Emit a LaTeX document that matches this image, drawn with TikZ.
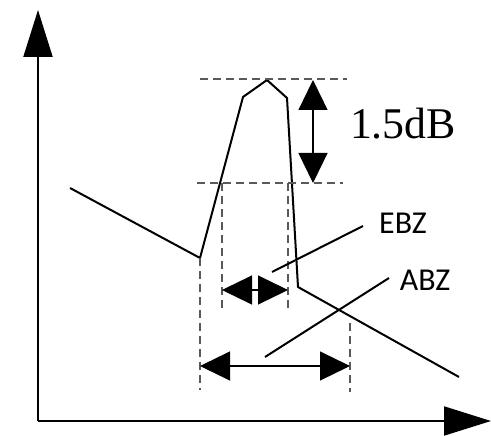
\documentclass[tikz,border=0pt]{standalone}
\usepackage{fontspec}
\setmainfont{Liberation Serif}
\newfontfamily\labfont{Carlito}
\usetikzlibrary{arrows.meta}
\tikzset{
  axisline/.style={line width=2bp,-{Triangle[length=47bp,width=29bp]}},
  curveline/.style={line width=2bp,line join=miter},
  guide/.style={line width=1.4bp,draw=black!65,dash pattern=on 8bp off 5bp},
  dimarrow/.style={line width=1.2bp,{Triangle[length=30bp,width=29bp]}-{Triangle[length=30bp,width=29bp]}},
  leader/.style={line width=2bp},
  serlab/.style={font=\fontsize{44}{48}\selectfont,inner sep=0pt},
  sanslab/.style={font=\labfont\fontsize{32}{36}\selectfont,inner sep=0pt}
}
\begin{document}
\begin{tikzpicture}[x=1bp,y=-1bp]
\useasboundingbox (0,0) rectangle (491,436);
% axes
\coordinate (O) at (38,421);
\coordinate (Ytip) at (38,10);
\coordinate (Xtip) at (491,421);
\draw[axisline] (O) -- (Ytip);
\draw[axisline] (O) -- (Xtip);
% curve
\coordinate (c0) at (70,188);
\coordinate (c1) at (200,258);
\coordinate (c2) at (243,97);
\coordinate (c3) at (267,80);
\coordinate (c4) at (287,98);
\coordinate (c5) at (298,287);
\coordinate (c6) at (459,377);
\draw[curveline] (c0) -- (c1) -- (c2) -- (c3) -- (c4) -- (c5) -- (c6);
% dashed guides
\coordinate (h1a) at (200,79);  \coordinate (h1b) at (347,79);
\coordinate (h2a) at (197,183); \coordinate (h2b) at (343,183);
\draw[guide] (h1a) -- (h1b);
\draw[guide] (h2a) -- (h2b);
\coordinate (v1a) at (200,258); \coordinate (v1b) at (200,390);
\coordinate (v2a) at (350,323); \coordinate (v2b) at (350,392);
\coordinate (v3a) at (222,183); \coordinate (v3b) at (222,308);
\coordinate (v4a) at (288,183); \coordinate (v4b) at (288,308);
\draw[guide] (v1a) -- (v1b);
\draw[guide] (v2a) -- (v2b);
\draw[guide] (v3a) -- (v3b);
\draw[guide] (v4a) -- (v4b);
% dimension arrows
\coordinate (d1a) at (313,80);  \coordinate (d1b) at (313,183);
\draw[dimarrow] (d1a) -- (d1b);
\coordinate (d2a) at (222,290); \coordinate (d2b) at (288,290);
\draw[dimarrow] (d2a) -- (d2b);
\coordinate (d3a) at (200,366); \coordinate (d3b) at (350,366);
\draw[dimarrow] (d3a) -- (d3b);
% labels
\node[serlab] (db) at (403,124) {1.5dB};
\node[sanslab] (ebz) at (403,223) {EBZ};
\node[sanslab] (abz) at (425,280) {ABZ};
\coordinate (l1a) at (272,272); \coordinate (l1b) at (363,226);
\coordinate (l2a) at (265,357); \coordinate (l2b) at (389,278);
\draw[leader] (l1a) -- (l1b);
\draw[leader] (l2a) -- (l2b);
\end{tikzpicture}
\end{document}
